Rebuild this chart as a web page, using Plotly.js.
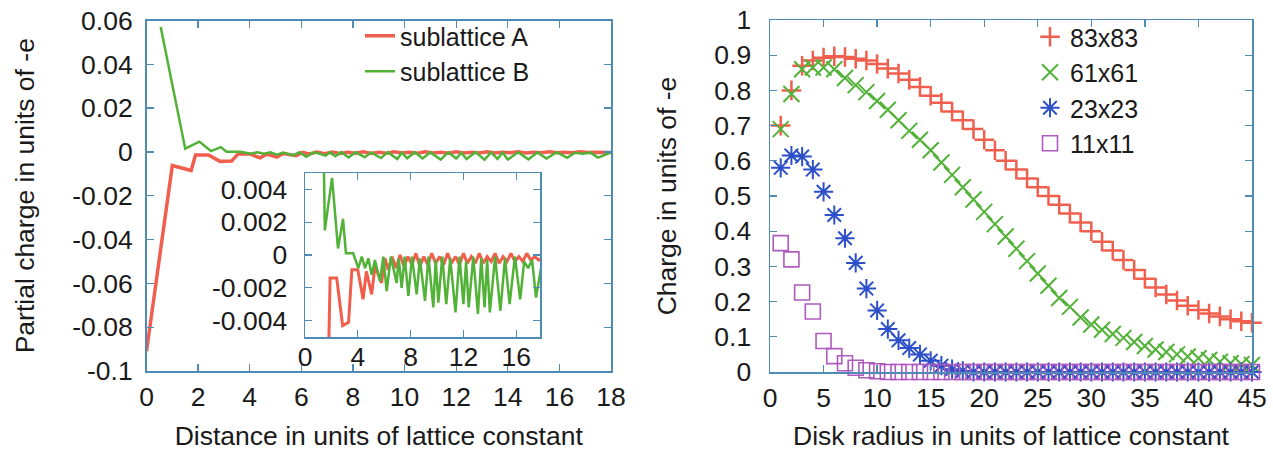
<!DOCTYPE html>
<html>
<head>
<meta charset="utf-8">
<script src="https://cdn.plot.ly/plotly-3.0.1.min.js"></script>
<style>
  html, body { margin: 0; padding: 0; background: #ffffff; }
  #chart { width: 1273px; height: 451px; }
</style>
</head>
<body>
<div id="chart"></div>
<script>
// ---------- Left panel: partial charge vs distance ----------
const distA = [0, 1.0, 1.73, 1.9, 2.4, 2.85, 3.3, 3.55, 4.0, 4.4, 4.65, 5.05, 5.3, 5.8, 6.05, 6.3, 6.6, 6.9, 7.2, 7.5, 7.8, 8.1, 8.4, 8.7, 9.0, 9.3, 9.6, 9.9, 10.2, 10.5, 10.8, 11.1, 11.4, 11.7, 12.0, 12.3, 12.6, 12.9, 13.2, 13.5, 13.8, 14.1, 14.4, 14.7, 15.0, 15.3, 15.6, 15.9, 16.2, 16.5, 16.8, 17.1, 17.4, 17.7, 18.0];
const chargeA = [-0.091, -0.0062, -0.0085, -0.0014, -0.0014, -0.0043, -0.0041, -0.0009, -0.0009, -0.0027, -0.001, -0.0024, -0.0007, -0.0017, -0.0002, -0.0009, -0.0001, -0.0008, 0.0, -0.0007, -0.0001, -0.0006, 0.0001, -0.0007, -0.0001, -0.0006, 0.0001, -0.0005, -0.0001, -0.0006, 0.0001, -0.0005, -0.0001, -0.0006, 0.0001, -0.0005, -0.0001, -0.0005, 0.0001, -0.0005, -0.0001, -0.0004, 0.0001, -0.0005, -0.0001, -0.0004, 0.0001, -0.0004, -0.0001, -0.0004, 0.0001, -0.0003, -0.0001, -0.0003, -0.0002];

const distB = [0.55, 1.5, 2.05, 2.5, 2.88, 3.1, 3.65, 4.04, 4.3, 4.55, 4.8, 5.05, 5.3, 5.68, 5.93, 6.19, 6.5, 6.94, 7.1, 7.32, 7.55, 7.83, 8.1, 8.46, 8.7, 9.09, 9.35, 9.72, 9.9, 10.1, 10.4, 10.7, 11.0, 11.4, 11.7, 12.0, 12.2, 12.4, 12.75, 13.1, 13.35, 13.6, 13.8, 14.0, 14.4, 14.8, 15.15, 15.5, 15.9, 16.3, 16.6, 16.9, 17.2, 17.5, 18.0];
const chargeB = [0.057, 0.0015, 0.0047, 0.0004, 0.0022, 0.0001, 0.0001, -0.0008, -0.0001, -0.0008, -0.0002, -0.0012, -0.0003, -0.0016, -0.0001, -0.0022, -0.0001, -0.0017, -0.0002, -0.002, -0.0001, -0.0025, -0.0001, -0.0024, -0.0002, -0.0028, -0.0001, -0.0032, -0.0003, -0.0029, -0.0001, -0.003, -0.0002, -0.0035, -0.0001, -0.003, -0.0004, -0.0032, -0.0001, -0.0036, -0.0002, -0.0032, -0.0003, -0.0035, -0.0001, -0.0034, -0.0002, -0.003, -0.0001, -0.0027, -0.0004, -0.0008, -0.0003, -0.0026, -0.0002];

const seriesNamesLeft = ['sublattice A', 'sublattice B'];

const leftYTickVals = [0.06, 0.04, 0.02, 0, -0.02, -0.04, -0.06, -0.08, -0.1];
const leftYTickText = ['0.06', '0.04', '0.02', '0', '-0.02', '-0.04', '-0.06', '-0.08', '-0.1'];
const leftXTickVals = [0, 2, 4, 6, 8, 10, 12, 14, 16, 18];
const insetYTickVals = [0.004, 0.002, 0, -0.002, -0.004];
const insetYTickText = ['0.004', '0.002', '0', '-0.002', '-0.004'];
const insetXTickVals = [0, 4, 8, 12, 16];

// ---------- Right panel: charge vs disk radius ----------
const radius = [1, 2, 3, 4, 5, 6, 7, 8, 9, 10, 11, 12, 13, 14, 15, 16, 17, 18, 19, 20, 21, 22, 23, 24, 25, 26, 27, 28, 29, 30, 31, 32, 33, 34, 35, 36, 37, 38, 39, 40, 41, 42, 43, 44, 45];
const charge83 = [0.70, 0.80, 0.87, 0.885, 0.893, 0.897, 0.895, 0.89, 0.885, 0.875, 0.862, 0.848, 0.83, 0.81, 0.785, 0.765, 0.74, 0.715, 0.69, 0.66, 0.63, 0.60, 0.575, 0.55, 0.525, 0.50, 0.475, 0.45, 0.425, 0.40, 0.37, 0.345, 0.318, 0.29, 0.265, 0.24, 0.22, 0.203, 0.188, 0.176, 0.166, 0.158, 0.15, 0.144, 0.14];
const charge61 = [0.69, 0.79, 0.86, 0.865, 0.865, 0.86, 0.835, 0.815, 0.795, 0.77, 0.745, 0.715, 0.685, 0.66, 0.63, 0.595, 0.56, 0.525, 0.49, 0.455, 0.42, 0.385, 0.35, 0.315, 0.28, 0.245, 0.21, 0.185, 0.155, 0.135, 0.12, 0.108, 0.097, 0.085, 0.074, 0.064, 0.057, 0.05, 0.044, 0.039, 0.034, 0.029, 0.025, 0.022, 0.02];
const charge23 = [0.58, 0.615, 0.612, 0.575, 0.512, 0.446, 0.38, 0.31, 0.237, 0.175, 0.122, 0.09, 0.068, 0.05, 0.032, 0.018, 0.008, 0.003, 0, 0, 0, 0, 0, 0, 0, 0, 0, 0, 0, 0, 0, 0, 0, 0, 0, 0, 0, 0, 0, 0, 0, 0, 0, 0, 0];
const charge11 = [0.366, 0.32, 0.226, 0.172, 0.088, 0.045, 0.025, 0.012, 0.005, 0.002, 0, 0, 0, 0, 0, 0, 0, 0, 0, 0, 0, 0, 0, 0, 0, 0, 0, 0, 0, 0, 0, 0, 0, 0, 0, 0, 0, 0, 0, 0, 0, 0, 0, 0, 0];
const seriesNamesRight = ['83x83', '61x61', '23x23', '11x11'];

const rightYTickVals = [0, 0.1, 0.2, 0.3, 0.4, 0.5, 0.6, 0.7, 0.8, 0.9, 1];
const rightYTickText = ['0', '0.1', '0.2', '0.3', '0.4', '0.5', '0.6', '0.7', '0.8', '0.9', '1'];
const rightXTickVals = [0, 5, 10, 15, 20, 25, 30, 35, 40, 45];

// ---------- styling ----------
const RED = 'rgb(240,95,78)';
const GREEN = 'rgb(82,178,55)';
const BLUE = 'rgb(45,80,200)';
const PURPLE = 'rgb(175,90,190)';
const FRAME = 'rgb(78,140,182)';
const FONT = 'Liberation Sans, Arial, sans-serif';
const TXT = '#1a1a1a';
const FS = 26.5;
const LFS = 25;

const traces = [
  {x: distA, y: chargeA, name: seriesNamesLeft[0], type: 'scatter', mode: 'lines',
   line: {color: RED, width: 3.5}, xaxis: 'x', yaxis: 'y', legend: 'legend'},
  {x: distB, y: chargeB, name: seriesNamesLeft[1], type: 'scatter', mode: 'lines',
   line: {color: GREEN, width: 2.5}, xaxis: 'x', yaxis: 'y', legend: 'legend'},
  {x: distA, y: chargeA, name: seriesNamesLeft[0], type: 'scatter', mode: 'lines', showlegend: false,
   line: {color: RED, width: 3}, xaxis: 'x3', yaxis: 'y3'},
  {x: distB, y: chargeB, name: seriesNamesLeft[1], type: 'scatter', mode: 'lines', showlegend: false,
   line: {color: GREEN, width: 2.5}, xaxis: 'x3', yaxis: 'y3'},
  {x: radius, y: charge83, name: seriesNamesRight[0], type: 'scatter', mode: 'markers', cliponaxis: false,
   marker: {symbol: 'cross-thin-open', size: 14, color: RED, line: {color: RED, width: 2.5}},
   xaxis: 'x2', yaxis: 'y2', legend: 'legend2'},
  {x: radius, y: charge61, name: seriesNamesRight[1], type: 'scatter', mode: 'markers', cliponaxis: false,
   marker: {symbol: 'x-thin-open', size: 16, color: GREEN, line: {color: GREEN, width: 2}},
   xaxis: 'x2', yaxis: 'y2', legend: 'legend2'},
  {x: radius, y: charge23, name: seriesNamesRight[2], type: 'scatter', mode: 'markers', cliponaxis: false,
   marker: {symbol: 'asterisk-open', size: 16, color: BLUE, line: {color: BLUE, width: 2}},
   xaxis: 'x2', yaxis: 'y2', legend: 'legend2'},
  {x: radius, y: charge11, name: seriesNamesRight[3], type: 'scatter', mode: 'markers', cliponaxis: false,
   marker: {symbol: 'square-open', size: 15, color: PURPLE, line: {color: PURPLE, width: 1.6}},
   xaxis: 'x2', yaxis: 'y2', legend: 'legend2'}
];

function axisBase(extra) {
  return Object.assign({
    showline: true, linecolor: FRAME, linewidth: 1.5, mirror: 'ticks',
    ticks: 'inside', ticklen: 7, tickwidth: 1.3, tickcolor: FRAME,
    showgrid: false, zeroline: false, automargin: false,
    tickfont: {family: FONT, size: FS, color: TXT}
  }, extra);
}

const W = 1273, H = 451;
const layout = {
  width: W, height: H,
  margin: {l: 0, r: 0, t: 0, b: 0},
  paper_bgcolor: '#ffffff', plot_bgcolor: '#ffffff',
  font: {family: FONT, size: FS, color: TXT},
  xaxis: axisBase({domain: [146.5 / W, 611 / W], range: [0, 18], anchor: 'y',
    tickmode: 'array', tickvals: leftXTickVals, ticklabelstandoff: 2,
    title: {text: 'Distance in units of lattice constant', font: {family: FONT, size: FS, color: TXT}, standoff: 20}}),
  yaxis: axisBase({domain: [1 - 371 / H, 1 - 20.5 / H], range: [-0.1, 0.06], anchor: 'x',
    tickmode: 'array', tickvals: leftYTickVals, ticktext: leftYTickText, ticklabelstandoff: 7,
    title: {text: 'Partial charge in units of -e', font: {family: FONT, size: FS, color: TXT}, standoff: 30}}),
  xaxis2: axisBase({domain: [770 / W, 1252 / W], range: [0, 45], anchor: 'y2',
    tickmode: 'array', tickvals: rightXTickVals, ticklabelstandoff: 2,
    title: {text: 'Disk radius in units of lattice constant', font: {family: FONT, size: FS, color: TXT}, standoff: 20}}),
  yaxis2: axisBase({domain: [1 - 372 / H, 1 - 20 / H], range: [0, 1], anchor: 'x2',
    tickmode: 'array', tickvals: rightYTickVals, ticktext: rightYTickText, ticklabelstandoff: 12,
    title: {text: 'Charge in units of -e', font: {family: FONT, size: FS, color: TXT}, standoff: 30}}),
  xaxis3: axisBase({domain: [305 / W, 540 / W], range: [0, 17.8], anchor: 'y3',
    tickmode: 'array', tickvals: insetXTickVals, ticklabelstandoff: -4}),
  yaxis3: axisBase({domain: [1 - 337 / H, 1 - 173 / H], range: [-0.005, 0.005], anchor: 'x3',
    tickmode: 'array', tickvals: insetYTickVals, ticktext: insetYTickText, ticklabelstandoff: 11}),
  legend: {x: 360 / W, y: 1 - 13 / H, xanchor: 'left', yanchor: 'top',
    bgcolor: 'rgba(0,0,0,0)', borderwidth: 0, tracegroupgap: 0,
    font: {family: FONT, size: LFS, color: TXT}},
  legend2: {x: 1030 / W, y: 1 - 14 / H, xanchor: 'left', yanchor: 'top',
    bgcolor: 'rgba(0,0,0,0)', borderwidth: 0, tracegroupgap: 0,
    font: {family: FONT, size: LFS, color: TXT}},
  showlegend: true
};

Plotly.newPlot('chart', traces, layout, {displayModeBar: false, staticPlot: true});
</script>
</body>
</html>
